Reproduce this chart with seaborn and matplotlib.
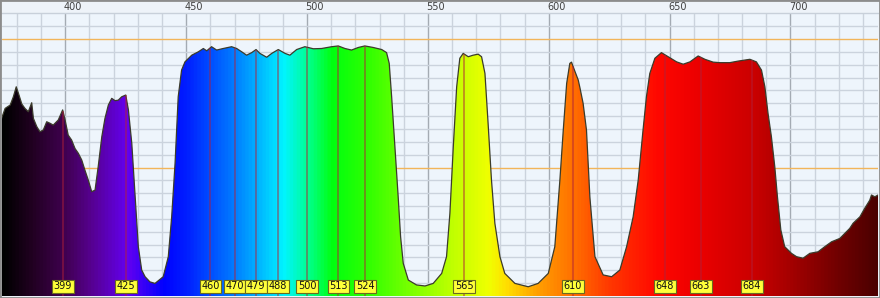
import numpy as np
import pandas as pd
import matplotlib
matplotlib.use("Agg")
import matplotlib.pyplot as plt
import matplotlib.transforms as mtransforms
from matplotlib.colors import LinearSegmentedColormap
from matplotlib.patches import Rectangle
import seaborn as sns

# ---------------- data ----------------
wavelength = [373.6, 375.1, 377.2, 378.5, 379.7, 380.6, 382.0, 383.3, 384.7, 386.1,
              386.8, 388.2, 389.5, 390.9, 392.3, 393.7, 395.0, 397.1, 398.9, 399.9,
              401.2, 402.6, 404.0, 405.4, 406.8, 408.1, 409.5, 410.9, 412.3, 413.6,
              415.1, 416.4, 417.8, 419.2, 420.6, 421.9, 423.3, 425.0, 426.1, 427.5,
              428.8, 430.2, 431.6, 433.0, 435.0, 437.1, 440.5, 442.6, 444.0, 445.4,
              446.7, 448.1, 449.5, 452.3, 455.0, 457.1, 458.5, 460.5, 462.6, 465.3,
              468.8, 470.9, 473.0, 475.0, 477.1, 478.9, 480.5, 483.3, 485.4, 488.1,
              490.9, 492.9, 495.7, 499.1, 502.6, 506.0, 510.2, 512.9, 515.7, 518.4,
              521.2, 523.9, 527.4, 530.9, 532.9, 534.0, 535.0, 535.9, 536.8, 537.7,
              538.7, 539.8, 541.9, 545.3, 548.8, 552.2, 555.7, 557.7, 559.1, 560.5,
              561.9, 563.2, 564.6, 566.7, 568.7, 570.8, 572.2, 573.6, 574.9, 576.3,
              577.7, 579.8, 581.8, 586.0, 591.5, 595.6, 599.8, 602.5, 604.6, 606.0,
              607.4, 608.7, 609.4, 610.1, 612.2, 612.9, 614.2, 615.6, 617.0, 619.1,
              622.5, 626.0, 629.4, 632.2, 634.9, 637.0, 639.0, 640.4, 641.8, 643.9,
              646.6, 649.4, 652.9, 655.6, 658.4, 661.8, 664.6, 668.0, 670.8, 674.9,
              678.3, 683.2, 685.9, 688.0, 689.4, 690.7, 692.1, 693.5, 694.6, 696.0,
              697.6, 700.4, 702.5, 705.2, 708.0, 711.4, 714.2, 717.0, 720.4, 722.5,
              724.5, 725.9, 728.7, 730.7, 732.8, 733.5, 734.9, 736.2]
intensity = [69.0, 73.0, 74.3, 77.5, 81.4, 78.9, 74.7, 73.0, 71.7, 75.2,
             69.1, 65.9, 63.9, 64.6, 67.8, 67.2, 66.5, 68.5, 72.4, 68.5,
             62.6, 60.7, 57.4, 55.5, 52.9, 49.0, 45.1, 40.6, 41.2, 50.3,
             62.0, 69.1, 74.3, 76.9, 76.0, 76.2, 77.5, 78.2, 72.4, 59.4,
             40.0, 19.2, 10.1, 7.5, 5.5, 4.9, 7.5, 15.3, 30.8, 51.6,
             77.5, 87.9, 91.1, 93.7, 95.0, 96.3, 95.4, 97.0, 95.7, 96.3,
             97.0, 96.3, 95.0, 93.7, 94.7, 95.9, 94.4, 92.9, 94.4, 95.9,
             94.4, 93.7, 95.9, 97.0, 96.2, 96.3, 97.0, 97.3, 96.3, 95.7,
             96.7, 97.3, 96.7, 95.9, 94.7, 90.5, 77.5, 64.6, 51.6, 38.6,
             23.1, 12.7, 6.2, 4.3, 3.9, 4.9, 8.8, 15.3, 32.2, 58.1,
             81.4, 92.5, 94.4, 93.1, 93.7, 94.1, 93.1, 86.6, 67.2, 45.1,
             28.3, 15.3, 8.8, 4.9, 3.6, 4.9, 8.8, 19.2, 45.1, 64.6,
             82.7, 90.5, 91.0, 89.2, 84.0, 81.0, 75.0, 64.6, 38.6, 15.3,
             8.2, 7.5, 10.1, 19.2, 30.8, 45.1, 64.6, 77.5, 86.6, 92.5,
             94.7, 93.1, 91.1, 90.2, 91.1, 93.4, 92.1, 91.0, 90.8, 90.8,
             91.4, 92.1, 91.1, 87.9, 81.4, 71.1, 62.0, 50.3, 38.6, 25.7,
             19.2, 16.6, 15.3, 14.7, 16.6, 17.2, 19.2, 21.1, 22.4, 24.4,
             26.3, 28.3, 30.8, 34.1, 37.3, 39.3, 38.6, 39.3]
peak_labels = [399, 425, 460, 470, 479, 488, 500, 513, 524, 565, 610, 648, 663, 684]
axis_ticks = [400, 450, 500, 550, 600, 650, 700]

# spectral colour stops (nm, colour) for the gradient fill
color_stops_nm = [373.6, 385, 399, 410, 425, 440, 450, 460, 470, 480, 490, 500, 510,
                  525, 540, 560, 575, 582, 595, 610, 625, 645, 660, 684, 700, 720, 736.2]
color_stops = ["#000000", "#200020", "#400050", "#560090", "#6400f0", "#0000ff",
               "#0020ff", "#0050ff", "#0080ff", "#00b8ff", "#00f4ff", "#00ff90",
               "#00ff10", "#30ff00", "#70ff00", "#c0ff00", "#f0ff00", "#ffe000",
               "#ffa000", "#ff7000", "#ff3800", "#ff0800", "#ee0000", "#cc0000",
               "#a50000", "#700000", "#4a0000"]

df = pd.DataFrame({"wavelength": wavelength, "intensity": intensity})

# ---------------- figure ----------------
sns.set_theme(style="white")
plt.rcParams["font.family"] = ["DejaVu Sans"]

W, H = 880, 298
fig = plt.figure(figsize=(W / 100, H / 100), dpi=100, facecolor="#EEF3F9")
ax_left, ax_right, ax_top, ax_bottom = 1.5, 878.0, 13.3, 296.0
ax = fig.add_axes([ax_left / W, (H - ax_bottom) / H,
                   (ax_right - ax_left) / W, (ax_bottom - ax_top) / H])
ax.set_facecolor("#EEF5FC")
xmin, xmax = 373.6, 736.2
ax.set_xlim(xmin, xmax)
ax.set_ylim(0, 110)

# grid
for w in range(380, 737, 10):
    major = (w % 50 == 0)
    ax.axvline(w, color="#A4ABB3" if major else "#CBD3DD", lw=1.0, zorder=0.5)
for v in range(5, 110, 5):
    orange = v in (50, 100)
    ax.axhline(v, color="#F2B55A" if orange else "#CBD3DD", lw=1.0, zorder=0.6 if orange else 0.5)

# gradient fill clipped to the spectrum
cmap = LinearSegmentedColormap.from_list(
    "spec", [((n - xmin) / (xmax - xmin), c) for n, c in zip(color_stops_nm, color_stops)])
poly = ax.fill_between(df["wavelength"], 0, df["intensity"], color="none", lw=0, zorder=1)
im = ax.imshow(np.linspace(0, 1, 1024)[None, :], extent=[xmin, xmax, 0, 110],
               cmap=cmap, aspect="auto", zorder=2, interpolation="bilinear")
im.set_clip_path(poly.get_paths()[0], transform=ax.transData)

# outline
sns.lineplot(data=df, x="wavelength", y="intensity", ax=ax, color="#3b3b2b",
             lw=0.9, zorder=3, sort=False)

# marker lines
tops = np.interp(peak_labels, wavelength, intensity)
ax.vlines(peak_labels, 0, tops, colors="#b0203a", alpha=0.6, lw=1.1, zorder=4)

# marker labels
for w in peak_labels:
    ax.text(w, 3.75, str(w), ha="center", va="center", fontsize=7, color="#111111",
            zorder=6, bbox=dict(boxstyle="square,pad=0.16", fc="#FFFF3A", ec="#6a6a20", lw=0.8))

# top tick labels
trans = mtransforms.blended_transform_factory(ax.transData, ax.transAxes)
ytxt = 1 + (ax_top - 7.2) / (ax_bottom - ax_top)
for t in axis_ticks:
    ax.text(t - 1.4 / 2.418, ytxt, str(t), transform=trans, ha="left", va="center",
            fontsize=7, color="#404040", clip_on=False)

ax.set_xticks([])
ax.set_yticks([])
ax.set_xlabel("")
ax.set_ylabel("")
for s in ["left", "right", "bottom"]:
    ax.spines[s].set_visible(False)
ax.spines["top"].set_color("#C8D0DA")
ax.spines["top"].set_linewidth(1.0)

fig.patches.append(Rectangle((0, 0), 1, 1, transform=fig.transFigure, fill=False,
                             ec="#8C8C8C", lw=2.0))

fig.savefig("out.png", dpi=100, facecolor=fig.get_facecolor())
